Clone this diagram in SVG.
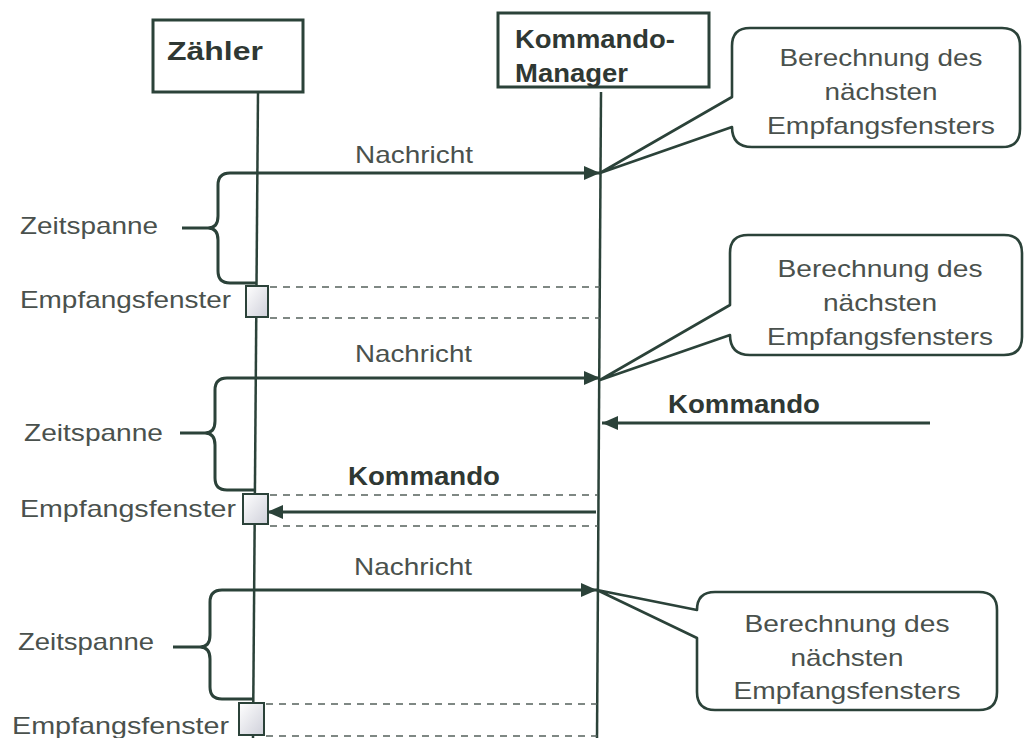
<svg xmlns="http://www.w3.org/2000/svg" width="1025" height="738" viewBox="0 0 1025 738">
<style>
.ln{stroke:#2b4239;fill:none;stroke-width:3}
.life{stroke:#2b4239;fill:none;stroke-width:2.5}
.dash{stroke:#55625c;fill:none;stroke-width:1.6;stroke-dasharray:7 6}
.box{fill:#fff;stroke:#2b4239;stroke-width:3}
.call{fill:#fff;stroke:#2b4239;stroke-width:2.6;stroke-linejoin:round}
.win{fill:url(#g);stroke:#2b4239;stroke-width:2}
.t{font-family:"Liberation Sans",Arial,sans-serif;font-size:24px;fill:#4a514d}
.b{font-family:"Liberation Sans",Arial,sans-serif;font-size:25px;font-weight:bold;fill:#2f3833}
.m{text-anchor:middle}
</style>
<defs>
<linearGradient id="g" x1="0" y1="0" x2="1" y2="1">
<stop offset="0" stop-color="#ffffff"/>
<stop offset="1" stop-color="#cfd0da"/>
</linearGradient>
<marker id="ah" viewBox="0 0 16 14" refX="16" refY="7" markerWidth="16" markerHeight="14" markerUnits="userSpaceOnUse" orient="auto">
<path d="M0,0 L16,7 L0,14 Z" fill="#2b4239"/>
</marker>
</defs>

<g id="zaehler">
<rect class="box" x="153" y="20" width="150" height="72"/>
<text class="b" x="167" y="60" font-size="30" textLength="96" lengthAdjust="spacingAndGlyphs">Zähler</text>
</g>
<g id="kommando-manager">
<rect class="box" x="498" y="13" width="211" height="74"/>
<text class="b" x="515" y="48" textLength="160" lengthAdjust="spacingAndGlyphs">Kommando-</text>
<text class="b" x="515" y="82" textLength="113" lengthAdjust="spacingAndGlyphs">Manager</text>
</g>

<g id="lifelines">
<line class="life" x1="258" y1="92" x2="253" y2="738"/>
<line class="life" x1="601" y1="92" x2="597" y2="738"/>
</g>

<g id="callout1">
<path class="call" d="M750,28 H1002 Q1020,28 1020,46 V129 Q1020,147 1002,147 H752 Q732,147 732,127 L600,173 L732,97 V46 Q732,28 750,28 Z"/>
<text class="t m" x="881" y="66" textLength="203" lengthAdjust="spacingAndGlyphs">Berechnung des</text>
<text class="t m" x="881" y="100" textLength="113" lengthAdjust="spacingAndGlyphs">nächsten</text>
<text class="t m" x="881" y="134" textLength="228" lengthAdjust="spacingAndGlyphs">Empfangsfensters</text>
</g>
<g id="callout2">
<path class="call" d="M748,235 H1004 Q1022,235 1022,253 V337 Q1022,355 1004,355 H750 Q730,355 730,335 L600,380 L730,305 V253 Q730,235 748,235 Z"/>
<text class="t m" x="880" y="277" textLength="205" lengthAdjust="spacingAndGlyphs">Berechnung des</text>
<text class="t m" x="880" y="311" textLength="114" lengthAdjust="spacingAndGlyphs">nächsten</text>
<text class="t m" x="880" y="345" textLength="226" lengthAdjust="spacingAndGlyphs">Empfangsfensters</text>
</g>
<g id="callout3">
<path class="call" d="M715,592 H979 Q997,592 997,610 V692 Q997,710 979,710 H715 Q697,710 697,692 V638 L597,590 L697,610 Q697,592 715,592 Z"/>
<text class="t m" x="847" y="632" textLength="205" lengthAdjust="spacingAndGlyphs">Berechnung des</text>
<text class="t m" x="847" y="666" textLength="113" lengthAdjust="spacingAndGlyphs">nächsten</text>
<text class="t m" x="847" y="699" textLength="227" lengthAdjust="spacingAndGlyphs">Empfangsfensters</text>
</g>

<g id="brace1">
<path class="ln" d="M258,173 H230 Q218,173 218,185 V216 Q218,228 208,228 H182 M208,228 Q218,228 218,240 V271 Q218,283 230,283 H257"/>
<text class="t" x="20" y="234" textLength="138" lengthAdjust="spacingAndGlyphs">Zeitspanne</text>
</g>
<g id="brace2">
<path class="ln" d="M256,378 H227 Q215,378 215,390 V421 Q215,433 205,433 H180 M205,433 Q215,433 215,445 V478 Q215,490 227,490 H255"/>
<text class="t" x="24" y="441" textLength="139" lengthAdjust="spacingAndGlyphs">Zeitspanne</text>
</g>
<g id="brace3">
<path class="ln" d="M254,590 H222 Q210,590 210,602 V635 Q210,647 200,647 H173 M200,647 Q210,647 210,659 V687 Q210,699 222,699 H253"/>
<text class="t" x="18" y="650" textLength="136" lengthAdjust="spacingAndGlyphs">Zeitspanne</text>
</g>

<g id="window1">
<rect class="win" x="246" y="286" width="22" height="31"/>
<text class="t" x="20" y="308" textLength="211" lengthAdjust="spacingAndGlyphs">Empfangsfenster</text>
</g>
<g id="window2">
<rect class="win" x="243" y="494" width="25" height="30"/>
<text class="t" x="20" y="517" textLength="216" lengthAdjust="spacingAndGlyphs">Empfangsfenster</text>
</g>
<g id="window3">
<rect class="win" x="239" y="703" width="25" height="32"/>
<text class="t" x="12" y="734" textLength="217" lengthAdjust="spacingAndGlyphs">Empfangsfenster</text>
</g>

<g id="connectors">
<line class="ln" x1="258" y1="173" x2="600" y2="173" marker-end="url(#ah)"/>
<line class="ln" x1="256" y1="378" x2="600" y2="378" marker-end="url(#ah)"/>
<line class="ln" x1="254" y1="590" x2="597" y2="590" marker-end="url(#ah)"/>
<line class="ln" x1="930" y1="423" x2="602" y2="423" marker-end="url(#ah)"/>
<line class="ln" x1="596" y1="512" x2="267" y2="512" marker-end="url(#ah)"/>
<line class="dash" x1="270" y1="287" x2="600" y2="287"/>
<line class="dash" x1="270" y1="318" x2="600" y2="318"/>
<line class="dash" x1="270" y1="495" x2="598" y2="495"/>
<line class="dash" x1="270" y1="526" x2="598" y2="526"/>
<line class="dash" x1="266" y1="704" x2="597" y2="704"/>
<line class="dash" x1="266" y1="736" x2="597" y2="736"/>
<text class="t" x="355" y="163" textLength="118" lengthAdjust="spacingAndGlyphs">Nachricht</text>
<text class="t" x="355" y="362" textLength="117" lengthAdjust="spacingAndGlyphs">Nachricht</text>
<text class="t" x="354" y="575" textLength="118" lengthAdjust="spacingAndGlyphs">Nachricht</text>
<text class="b" x="668" y="413" textLength="152" lengthAdjust="spacingAndGlyphs">Kommando</text>
<text class="b" x="348" y="485" textLength="152" lengthAdjust="spacingAndGlyphs">Kommando</text>
</g>
</svg>
